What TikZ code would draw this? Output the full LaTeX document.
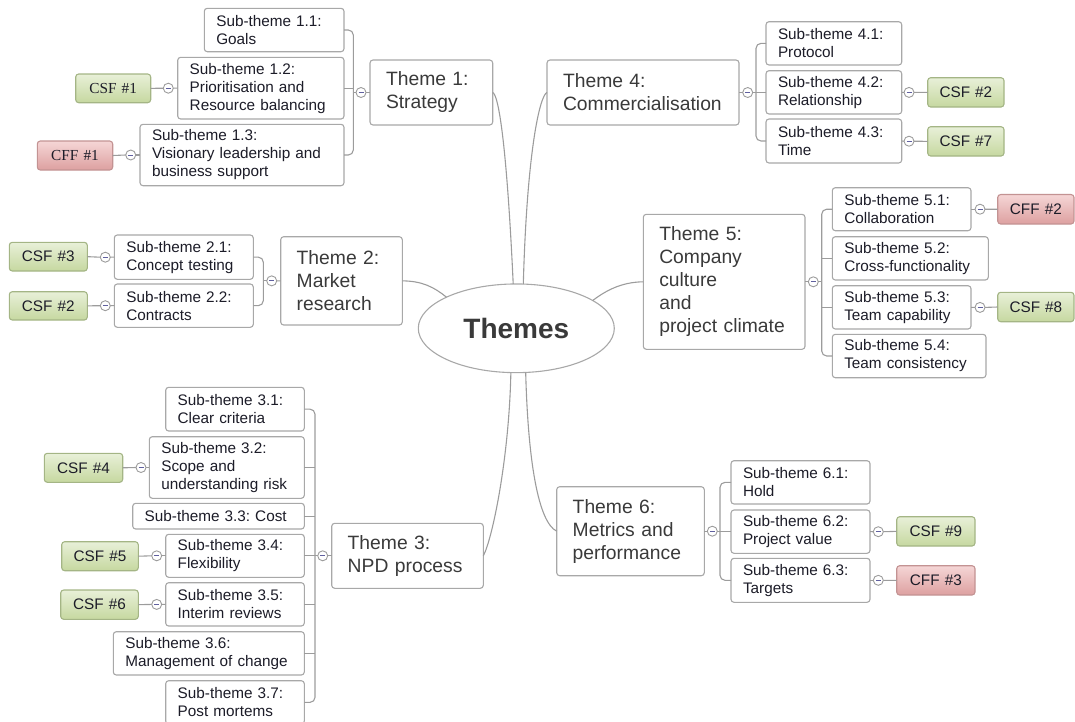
\documentclass[tikz,border=0pt]{standalone}
\usepackage{fontspec}
\setmainfont{Liberation Sans}
\newfontfamily\serifcsf{Liberation Serif}
\usetikzlibrary{shapes.geometric}
\frenchspacing
\definecolor{bord}{HTML}{A8A8A8}
\definecolor{lnk}{HTML}{9C9C9C}
\definecolor{gtop}{HTML}{E8F0D8}
\definecolor{gbot}{HTML}{C6D8A0}
\definecolor{gbrd}{HTML}{A4B585}
\definecolor{rtop}{HTML}{F5D6D6}
\definecolor{rbot}{HTML}{DDA0A0}
\definecolor{rbrd}{HTML}{C39393}
\definecolor{txt}{HTML}{1C1C28}
\definecolor{ttxt}{HTML}{3A3A3A}
\tikzset{
 box/.style={draw=bord, line width=1.1pt, rounded corners=3pt, fill=white, outer sep=0pt, inner ysep=2pt, align=left},
 subbox/.style={box, text=txt, font=\fontsize{15.3}{18}\selectfont\frenchspacing},
 themebox/.style={box, text=ttxt, font=\fontsize{19.3}{23}\selectfont},
 csfbox/.style={draw=gbrd, line width=1.1pt, rounded corners=3pt, top color=gtop, bottom color=gbot, outer sep=0pt, inner ysep=1pt, align=center, text=txt, font=\fontsize{15.3}{18}\selectfont},
 cffbox/.style={csfbox, draw=rbrd, top color=rtop, bottom color=rbot},
 tog/.style={circle, draw=lnk, line width=0.9pt, fill=white, minimum size=10pt, inner sep=0pt, outer sep=0pt,
   path picture={\draw[line width=0.8pt, draw=blue!25!gray] ([xshift=-2.5pt]path picture bounding box.center) -- ([xshift=2.5pt]path picture bounding box.center);}},
 conn/.style={draw=lnk, line width=1.1pt},
 hub/.style={ellipse, draw=bord, line width=1.1pt, fill=white, minimum width=196pt, minimum height=88.7pt, inner sep=0pt, outer sep=0pt, text=ttxt, font=\fontsize{28}{32}\selectfont\bfseries},
}
% name, style, pad, x1, y1, x2, y2, text
\newcommand\bx[8]{%
 \pgfmathsetmacro\bxt{#6-#4-2*#3}%
 \pgfmathsetmacro\bxh{#7-#5}%
 \node[#2, inner xsep=#3pt, text width=\bxt pt, minimum height=\bxh pt, anchor=north west] (#1) at (#4,#5) {#8};}
\begin{document}
\begin{tikzpicture}[x=1pt,y=-1pt]
\useasboundingbox (0,0) rectangle (1075,721);
\node[hub] (hub) at (516.3,328.3) {Themes};

% Theme 1
\bx{t1}{themebox}{16}{370}{60}{492.7}{125}{Theme 1:\\Strategy}
\bx{s11}{subbox}{12}{204.3}{8.3}{344}{51.7}{Sub-theme 1.1:\\Goals}
\bx{s12}{subbox}{12}{177.7}{57.3}{344}{119}{Sub-theme 1.2:\\Prioritisation and\\Resource balancing}
\bx{s13}{subbox}{12}{140}{124.3}{344}{185.7}{Sub-theme 1.3:\\Visionary leadership and\\business support}
\bx{csf1}{csfbox}{4}{75.7}{74}{150.7}{102.7}{\serifcsf CSF \#1}
\bx{cff1}{cffbox}{4}{37.3}{141}{112.7}{170}{\serifcsf CFF \#1}
\node[tog] (c1) at (361,92.5) {};
\node[tog] (c12) at (168.3,88.2) {};
\node[tog] (c13) at (130.7,155) {};
\coordinate (j1) at (353.3,92.5);

% Theme 2
\bx{t2}{themebox}{16}{280.7}{236.7}{402.3}{325}{Theme 2:\\Market\\research}
\bx{s21}{subbox}{12}{114.3}{235}{253.3}{279.3}{Sub-theme 2.1:\\Concept testing}
\bx{s22}{subbox}{12}{114.3}{284}{253.3}{327.3}{Sub-theme 2.2:\\Contracts}
\bx{csf3}{csfbox}{4}{9.3}{242.3}{87.3}{271}{CSF \#3}
\bx{csf2l}{csfbox}{4}{9.3}{291.7}{87.3}{320}{CSF \#2}
\node[tog] (c2) at (271.7,280.85) {};
\node[tog] (c21) at (105.3,257.2) {};
\node[tog] (c22) at (105.3,305.7) {};
\coordinate (j2) at (263.3,280.85);

% Theme 3
\bx{t3}{themebox}{16}{331.7}{523.3}{483.3}{588.3}{Theme 3:\\NPD process}
\bx{s31}{subbox}{12}{165.7}{387.3}{304.3}{431}{Sub-theme 3.1:\\Clear criteria}
\bx{s32}{subbox}{12}{149.3}{436.7}{304.3}{498.3}{Sub-theme 3.2:\\Scope and\\understanding risk}
\bx{s33}{subbox}{12}{132.7}{503.3}{304.3}{529}{Sub-theme 3.3: Cost}
\bx{s34}{subbox}{12}{165.7}{534.3}{304.3}{577.3}{Sub-theme 3.4:\\Flexibility}
\bx{s35}{subbox}{12}{165.7}{582.7}{304.3}{626}{Sub-theme 3.5:\\Interim reviews}
\bx{s36}{subbox}{12}{113.3}{631.7}{304.3}{675}{Sub-theme 3.6:\\Management of change}
\bx{s37}{subbox}{12}{165.7}{680.7}{304.3}{724}{Sub-theme 3.7:\\Post mortems}
\bx{csf4}{csfbox}{4}{44.3}{453.3}{122.7}{482.3}{CSF \#4}
\bx{csf5}{csfbox}{4}{61.7}{541.7}{138.3}{570.7}{CSF \#5}
\bx{csf6}{csfbox}{4}{60.7}{590}{138.3}{619.3}{CSF \#6}
\node[tog] (c3) at (322.7,555.8) {};
\node[tog] (c32) at (141,467.5) {};
\node[tog] (c34) at (156.7,555.8) {};
\node[tog] (c35) at (156.7,604.4) {};
\coordinate (j3) at (315,555.8);

% Theme 4
\bx{t4}{themebox}{16}{547}{60}{739}{125}{Theme 4:\\Commercialisation}
\bx{s41}{subbox}{12}{766}{21.7}{901.7}{65}{Sub-theme 4.1:\\Protocol}
\bx{s42}{subbox}{12}{766}{70.7}{901.7}{114}{Sub-theme 4.2:\\Relationship}
\bx{s43}{subbox}{12}{766}{119}{901.7}{163}{Sub-theme 4.3:\\Time}
\bx{csf2r}{csfbox}{4}{927.7}{77.7}{1004}{107}{CSF \#2}
\bx{csf7}{csfbox}{4}{927.7}{126.7}{1004}{156}{CSF \#7}
\node[tog] (c4) at (747.7,92.5) {};
\node[tog] (c42) at (909,92.4) {};
\node[tog] (c43) at (909,141.2) {};
\coordinate (j4) at (756,92.5);

% Theme 5
\bx{t5}{themebox}{16}{643.3}{214.3}{805}{349.3}{Theme 5:\\Company\\culture\\and\\project climate}
\bx{s51}{subbox}{12}{832.3}{187.7}{971}{230.7}{Sub-theme 5.1:\\Collaboration}
\bx{s52}{subbox}{12}{832.3}{236.7}{988.3}{280}{Sub-theme 5.2:\\Cross-functionality}
\bx{s53}{subbox}{12}{832.3}{285.7}{971}{329}{Sub-theme 5.3:\\Team capability}
\bx{s54}{subbox}{12}{832.3}{334.3}{986}{377.7}{Sub-theme 5.4:\\Team consistency}
\bx{cff2}{cffbox}{4}{997.7}{194.5}{1074}{224}{CFF \#2}
\bx{csf8}{csfbox}{4}{997.7}{292.3}{1074}{321.7}{CSF \#8}
\node[tog] (c5) at (813.3,281.8) {};
\node[tog] (c51) at (980,209.2) {};
\node[tog] (c53) at (980,307.4) {};
\coordinate (j5) at (821.7,281.8);

% Theme 6
\bx{t6}{themebox}{16}{556.7}{486.7}{704.3}{575.7}{Theme 6:\\Metrics and\\performance}
\bx{s61}{subbox}{12}{731}{460.7}{870}{504}{Sub-theme 6.1:\\Hold}
\bx{s62}{subbox}{12}{731}{510}{870}{553.3}{Sub-theme 6.2:\\Project value}
\bx{s63}{subbox}{12}{731}{558.3}{870}{602.3}{Sub-theme 6.3:\\Targets}
\bx{csf9}{csfbox}{4}{896.7}{516.7}{975}{546}{CSF \#9}
\bx{cff3}{cffbox}{4}{896.7}{565.7}{975}{595}{CFF \#3}
\node[tog] (c6) at (712.3,531.2) {};
\node[tog] (c62) at (878.3,531.7) {};
\node[tog] (c63) at (878.3,580.3) {};
\coordinate (j6) at (720,531.2);

% hub to themes
\draw[conn] (t1.east) .. controls (499,95) and (507,150) .. (hub.94);
\draw[conn] (t4.west) .. controls (540,95) and (527,150) .. (hub.81);
\draw[conn] (t2.east) .. controls (422,281) and (434,287) .. (hub.156);
\draw[conn] (t5.west) .. controls (620,282) and (604,292) .. (hub.20);
\draw[conn] (hub.263) .. controls (509,460) and (492,540) .. (t3.east);
\draw[conn] (hub.282) .. controls (528,460) and (538,522) .. (t6.west);

% theme 1 tree
\draw[conn] (t1.west) -- (c1.east);
\draw[conn] (c1.west) -- (j1);
\draw[conn,rounded corners=5pt] (s11.east) -| (j1) |- (s13.east);
\draw[conn] (s12.east) -- (s12.east -| j1);
\draw[conn] (csf1.east) -- (c12.west);
\draw[conn] (c12.east) -- (s12.west);
\draw[conn] (cff1.east) -- (c13.west);
\draw[conn] (c13.east) -- (s13.west);

% theme 2 tree
\draw[conn] (t2.west) -- (c2.east);
\draw[conn] (c2.west) -- (j2);
\draw[conn,rounded corners=5pt] (s21.east) -| (j2) |- (s22.east);
\draw[conn] (csf3.east) -- (c21.west);
\draw[conn] (c21.east) -- (s21.west);
\draw[conn] (csf2l.east) -- (c22.west);
\draw[conn] (c22.east) -- (s22.west);

% theme 3 tree
\draw[conn] (t3.west) -- (c3.east);
\draw[conn] (c3.west) -- (j3);
\draw[conn,rounded corners=5pt] (s31.east) -| (j3) |- (s37.east);
\foreach \s in {s32,s33,s34,s35,s36} \draw[conn] (\s.east) -- (\s.east -| j3);
\draw[conn] (csf4.east) -- (c32.west);
\draw[conn] (c32.east) -- (s32.west);
\draw[conn] (csf5.east) -- (c34.west);
\draw[conn] (c34.east) -- (s34.west);
\draw[conn] (csf6.east) -- (c35.west);
\draw[conn] (c35.east) -- (s35.west);

% theme 4 tree
\draw[conn] (t4.east) -- (c4.west);
\draw[conn] (c4.east) -- (j4);
\draw[conn,rounded corners=5pt] (s41.west) -| (j4) |- (s43.west);
\draw[conn] (s42.west) -- (s42.west -| j4);
\draw[conn] (s42.east) -- (c42.west);
\draw[conn] (c42.east) -- (csf2r.west);
\draw[conn] (s43.east) -- (c43.west);
\draw[conn] (c43.east) -- (csf7.west);

% theme 5 tree
\draw[conn] (t5.east) -- (c5.west);
\draw[conn] (c5.east) -- (j5);
\draw[conn,rounded corners=5pt] (s51.west) -| (j5) |- (s54.west);
\foreach \s in {s52,s53} \draw[conn] (\s.west) -- (\s.west -| j5);
\draw[conn] (s51.east) -- (c51.west);
\draw[conn] (c51.east) -- (cff2.west);
\draw[conn] (s53.east) -- (c53.west);
\draw[conn] (c53.east) -- (csf8.west);

% theme 6 tree
\draw[conn] (t6.east) -- (c6.west);
\draw[conn] (c6.east) -- (j6);
\draw[conn,rounded corners=5pt] (s61.west) -| (j6) |- (s63.west);
\draw[conn] (s62.west) -- (s62.west -| j6);
\draw[conn] (s62.east) -- (c62.west);
\draw[conn] (c62.east) -- (csf9.west);
\draw[conn] (s63.east) -- (c63.west);
\draw[conn] (c63.east) -- (cff3.west);
\end{tikzpicture}
\end{document}
